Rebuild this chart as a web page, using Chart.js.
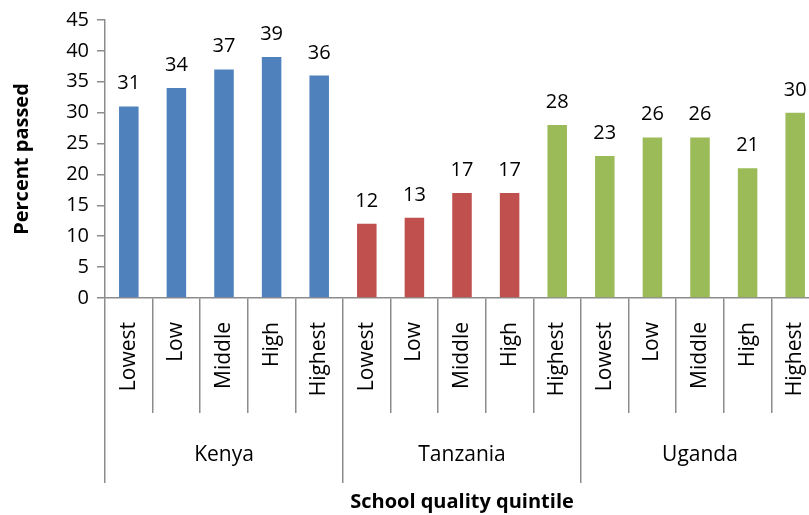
<!DOCTYPE html>
<html>
<head>
<meta charset="utf-8">
<script src="https://cdn.jsdelivr.net/npm/chart.js@4.4.1/dist/chart.umd.min.js"></script>
<style>
  html, body { margin: 0; padding: 0; background: #fff; overflow: hidden; }
  #wrap { width: 822px; height: 515px; }
</style>
</head>
<body>
<div id="wrap"><canvas id="chart" width="822" height="515"></canvas></div>
<script>
const COUNTRIES = ["Kenya", "Tanzania", "Uganda"];
const QUINTILES = ["Lowest", "Low", "Middle", "High", "Highest"];
const PASSED = [31, 34, 37, 39, 36, 12, 13, 17, 17, 28, 23, 26, 26, 21, 30];
const Y_TICKS = { min: 0, max: 45, step: 5 };

const BLUE = "#4f81bd";
const RED = "#c0504d";
const GREEN = "#9bbb59";
const AXIS = "#8c8c8c";
const FONT = "'Open Sans', Lato, sans-serif";

// colours as drawn: Tanzania's top bar is green in the source
const BAR_COLORS = [BLUE, BLUE, BLUE, BLUE, BLUE, RED, RED, RED, RED, GREEN, GREEN, GREEN, GREEN, GREEN, GREEN];

const labels = COUNTRIES.flatMap(() => QUINTILES);

const valueLabels = {
  id: "valueLabels",
  afterDatasetsDraw(chart) {
    const ctx = chart.ctx;
    const meta = chart.getDatasetMeta(0);
    ctx.save();
    ctx.font = "20px " + FONT;
    ctx.fillStyle = "#000";
    ctx.textAlign = "center";
    ctx.textBaseline = "alphabetic";
    meta.data.forEach((bar, i) => {
      ctx.fillText(String(PASSED[i]), bar.x, bar.y - 17);
    });
    ctx.restore();
  },
};

new Chart(document.getElementById("chart"), {
  type: "bar",
  data: {
    labels,
    datasets: [{
      data: PASSED,
      backgroundColor: BAR_COLORS,
      categoryPercentage: 1,
      barPercentage: 0.41,
    }],
  },
  options: {
    responsive: false,
    animation: false,
    devicePixelRatio: 1,
    layout: { padding: { top: 20, right: 3, left: 0, bottom: 0 } },
    plugins: { legend: { display: false }, tooltip: { enabled: false } },
    scales: {
      x: {
        type: "category",
        position: "bottom",
        offset: true,
        grid: { offset: true, drawOnChartArea: false, drawTicks: true, tickLength: 115, color: AXIS, lineWidth: 1.5 },
        border: { display: true, color: AXIS, width: 1.5 },
        ticks: {
          autoSkip: false, maxRotation: 90, minRotation: 90,
          padding: -91, color: "#000", font: { family: FONT, size: 21 },
        },
        afterFit: (s) => { s.height = 115; },
      },
      g: {
        type: "category",
        position: "bottom",
        labels: COUNTRIES,
        offset: true,
        grid: { offset: true, drawOnChartArea: false, drawTicks: true, tickLength: 70, color: AXIS, lineWidth: 1.5 },
        border: { display: false },
        ticks: { autoSkip: false, maxRotation: 0, padding: -41, color: "#000", font: { family: FONT, size: 21 } },
        title: {
          display: true, text: "School quality quintile", color: "#000",
          font: { family: FONT, size: 20, weight: "bold" }, padding: { top: 0, bottom: 1 },
        },
        afterFit: (s) => { s.height = 102; },
      },
      y: {
        min: Y_TICKS.min,
        max: Y_TICKS.max,
        grid: { drawOnChartArea: false, drawTicks: true, tickLength: 8, color: AXIS, lineWidth: 1.5 },
        border: { display: true, color: AXIS, width: 1.5 },
        ticks: { stepSize: Y_TICKS.step, padding: 8, color: "#000", font: { family: FONT, size: 20 } },
        title: {
          display: true, text: "Percent passed", color: "#000",
          font: { family: FONT, size: 20, weight: "bold" }, padding: { top: 10, bottom: 0 },
        },
        afterFit: (s) => { s.width = 105; },
      },
    },
  },
  plugins: [valueLabels],
});
</script>
</body>
</html>
